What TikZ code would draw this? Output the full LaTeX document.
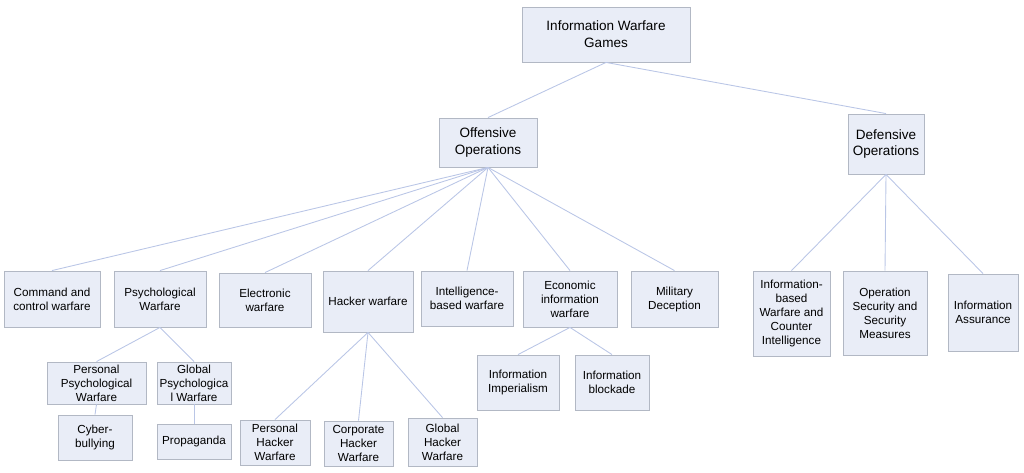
\documentclass[tikz,border=0pt]{standalone}
\usepackage{fontspec}
\setmainfont{Liberation Sans}
\usetikzlibrary{positioning}
\definecolor{boxfill}{RGB}{233,237,247}
\definecolor{boxline}{RGB}{178,184,196}
\definecolor{linkline}{RGB}{186,198,230}
\begin{document}
\begin{tikzpicture}[x=0.02cm,y=-0.02cm,
  box/.style={draw=boxline,fill=boxfill,align=center,inner sep=0pt,line width=0.5pt,font=\fontsize{6.65}{7.95}\selectfont},
  bigbox/.style={box,font=\fontsize{7.7}{9.6}\selectfont},
  link/.style={draw=linkline,line width=0.5pt}]
  \useasboundingbox (0,0) rectangle (1024,473);
  % top levels
  \node[bigbox,minimum width=3.36cm,minimum height=1.1cm] (iwg) at (606,34.5) {Information Warfare\\Games};
  \node[bigbox,minimum width=1.96cm,minimum height=0.98cm] (off) at (488,142.5) {Offensive\\Operations};
  \node[bigbox,minimum width=1.52cm,minimum height=1.2cm] (def) at (886,144) {Defensive\\Operations};
  % offensive branch
  \node[box,minimum width=1.92cm,minimum height=1.12cm] (cmd) at (52,299) {Command and\\control warfare};
  \node[box,minimum width=1.84cm,minimum height=1.12cm] (psy) at (160,299) {Psychological\\Warfare};
  \node[box,minimum width=1.84cm,minimum height=1.08cm] (elec) at (265,300) {Electronic\\warfare};
  \node[box,minimum width=1.8cm,minimum height=1.22cm] (hack) at (368,301.5) {Hacker warfare};
  \node[box,minimum width=1.84cm,minimum height=1.1cm] (intel) at (467,298.5) {Intelligence-\\based warfare};
  \node[box,minimum width=1.88cm,minimum height=1.12cm] (econ) at (570,299) {Economic\\information\\warfare};
  \node[box,minimum width=1.74cm,minimum height=1.12cm] (mil) at (674.5,299) {Military\\Deception};
  % defensive branch
  \node[box,minimum width=1.54cm,minimum height=1.7cm] (ibw) at (791.5,313.5) {Information-\\based\\Warfare and\\Counter\\Intelligence};
  \node[box,minimum width=1.68cm,minimum height=1.68cm] (opsec) at (885,313) {Operation\\Security and\\Security\\Measures};
  \node[box,minimum width=1.4cm,minimum height=1.54cm] (ia) at (983,312.5) {Information\\Assurance};
  % lower levels
  \node[box,minimum width=1.98cm,minimum height=0.84cm] (perpsy) at (96.5,383) {Personal\\Psychological\\Warfare};
  \node[box,minimum width=1.48cm,minimum height=0.84cm] (globpsy) at (194,383) {Global\\Psychologica\\l Warfare};
  \node[box,minimum width=1.48cm,minimum height=0.9cm] (cyber) at (95,437.5) {Cyber-\\bullying};
  \node[box,minimum width=1.48cm,minimum height=0.7cm] (prop) at (194,441.5) {Propaganda};
  \node[box,minimum width=1.4cm,minimum height=0.9cm] (perhack) at (275,442.5) {Personal\\Hacker\\Warfare};
  \node[box,minimum width=1.38cm,minimum height=0.9cm] (corphack) at (358.5,443.5) {Corporate\\Hacker\\Warfare};
  \node[box,minimum width=1.38cm,minimum height=0.96cm] (globhack) at (442.5,442) {Global\\Hacker\\Warfare};
  \node[box,minimum width=1.64cm,minimum height=1.1cm] (imper) at (518,382.5) {Information\\Imperialism};
  \node[box,minimum width=1.48cm,minimum height=1.1cm] (block) at (612,382.5) {Information\\blockade};
  % links
  \foreach \c in {off,def} \draw[link] (iwg.south) -- (\c.north);
  \foreach \c in {cmd,psy,elec,hack,intel,econ,mil} \draw[link] (off.south) -- (\c.north);
  \foreach \c in {ibw,opsec,ia} \draw[link] (def.south) -- (\c.north);
  \foreach \c in {perpsy,globpsy} \draw[link] (psy.south) -- (\c.north);
  \draw[link] (perpsy.south) -- (cyber.north);
  \draw[link] (globpsy.south) -- (prop.north);
  \foreach \c in {perhack,corphack,globhack} \draw[link] (hack.south) -- (\c.north);
  \foreach \c in {imper,block} \draw[link] (econ.south) -- (\c.north);
\end{tikzpicture}
\end{document}
